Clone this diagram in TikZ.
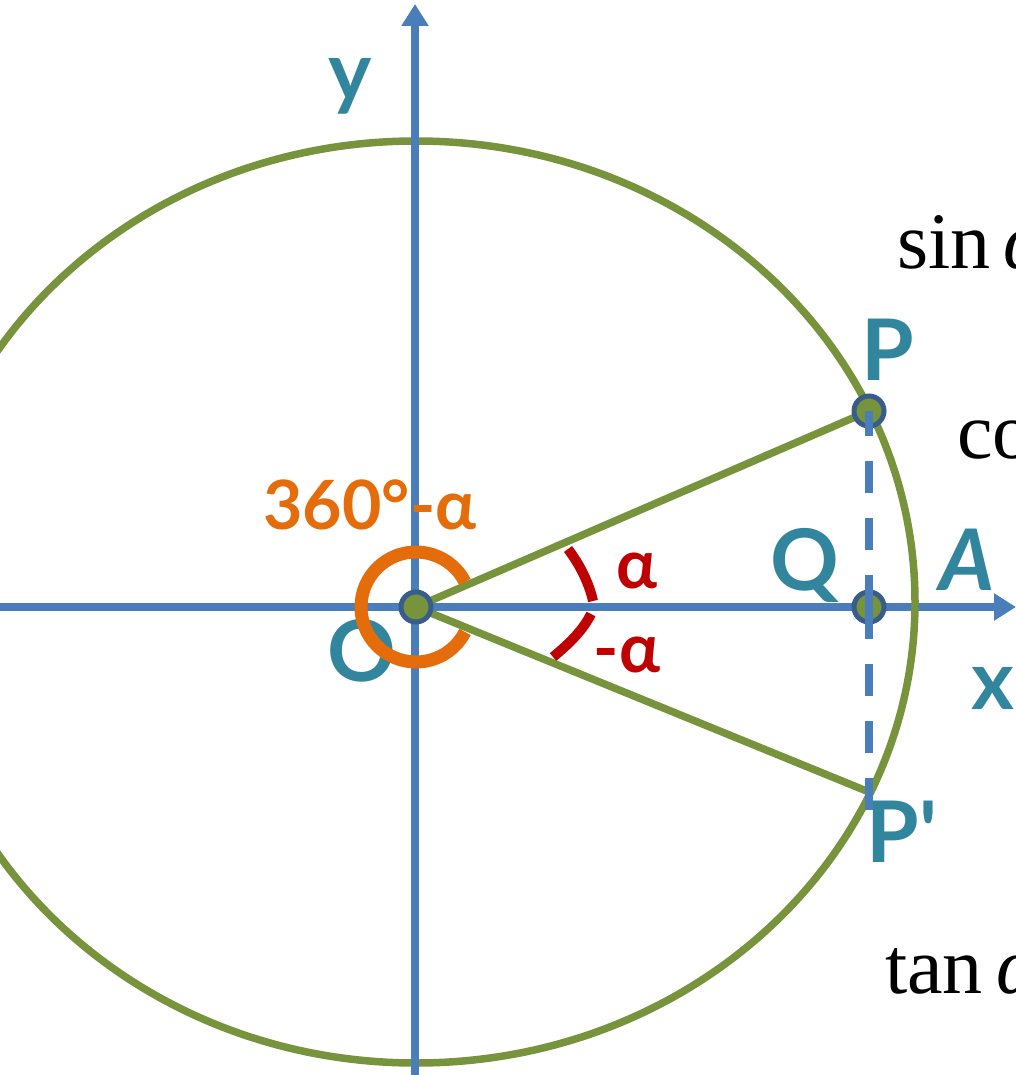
\documentclass[tikz,border=0pt]{standalone}
\usepackage{fontspec}
\usetikzlibrary{arrows.meta}
\newfontfamily\labfont{Lato}
\newfontfamily\serfont{Liberation Serif}
\definecolor{cgreen}{HTML}{77933C}
\definecolor{cblue}{HTML}{4A7EBB}
\definecolor{cteal}{HTML}{31859C}
\definecolor{corange}{HTML}{E46C0A}
\definecolor{cred}{HTML}{C00000}
\definecolor{cdotb}{HTML}{385D8A}
\begin{document}
\begin{tikzpicture}[x=1pt,y=-1pt,
  axis/.style={draw=cblue,line width=7.5pt,-{Triangle[length=22pt,width=26pt]}},
  greenline/.style={draw=cgreen,line width=7.5pt},
  dashline/.style={draw=cblue,line width=7.5pt,dash pattern=on 32pt off 25pt},
  dotnode/.style={circle,fill=cgreen,draw=cdotb,line width=5pt,minimum size=30pt,inner sep=0pt},
  lab/.style={text=cteal,font=\labfont\bfseries\fontsize{85}{100}\selectfont,inner sep=0pt},
  smalllab/.style={text=cteal,font=\labfont\bfseries\fontsize{82}{96}\selectfont,inner sep=0pt},
  anglab/.style={font=\labfont\bfseries\fontsize{68}{80}\selectfont,inner sep=0pt},
  sertext/.style={font=\serfont\fontsize{80}{96}\selectfont,inner sep=0pt,anchor=base west,text=black}
]
\useasboundingbox (0,0) rectangle (1016,1075);
\clip (0,0) rectangle (1016,1075);
% points
\coordinate (O) at (416,607);
\coordinate (P) at (869,411);
\coordinate (Q) at (869,607);
\coordinate (Pp) at (869,792);
\coordinate (Pend) at (869,814);
\coordinate (xs) at (0,607);
\coordinate (xe) at (1016,607);
\coordinate (ys) at (415,1075);
\coordinate (ye) at (415,4);
% x axis
\draw[axis] (xs) -- (xe);
% unit circle (ellipse)
\draw[cgreen,line width=7.5pt] (416,602) ellipse [x radius=499, y radius=461];
% y axis
\draw[axis] (ys) -- (ye);
% radius lines
\draw[greenline] (O) -- (P);
\draw[greenline] (O) -- (Pp);
% labels
\node[lab] (Olab) at (362,651) {O};
\node[smalllab] (ylab) at (350,86) {y};
\node[smalllab] (xlab) at (993,688) {x};
\node[lab] (Plab) at (888,350) {P};
\node[lab] (Qlab) at (805,565) {Q};
\node[lab,font=\labfont\bfseries\itshape\fontsize{85}{100}\selectfont] (Alab) at (967,560) {A};
\node[lab] (Pplab) at (902,832) {P'};
% orange angle 360-alpha
\draw[corange,line width=13pt] (O) ++(-27:55) arc[start angle=-27,end angle=-333,radius=55];
\node[anglab,text=corange] (big) at (370,505) {360°-α};
% red angles
\draw[cred,line width=10pt] (568,549) .. controls (580,565) and (589,583) .. (593,601);
\draw[cred,line width=10pt] (591,614) .. controls (583,630) and (570,643) .. (553,657);
\node[anglab,text=cred] (alab) at (637,571) {α};
\node[anglab,text=cred] (malab) at (627,655) {-α};
% dots
\node[dotnode] (Od) at (O) {};
\node[dotnode] (Pd) at (P) {};
\node[dotnode] (Qd) at (Q) {};
% dashed projection
\draw[dashline] (Q) -- (P);
\draw[dashline] (Q) -- (Pend);
% formulas at right (cut off as in the reference)
\node[sertext] (sin) at (897,268) {sin\,\textit{α}};
\node[sertext] (cos) at (957,458) {co};
\node[sertext] (tan) at (885,993) {tan\,\textit{α}};
\end{tikzpicture}
\end{document}
